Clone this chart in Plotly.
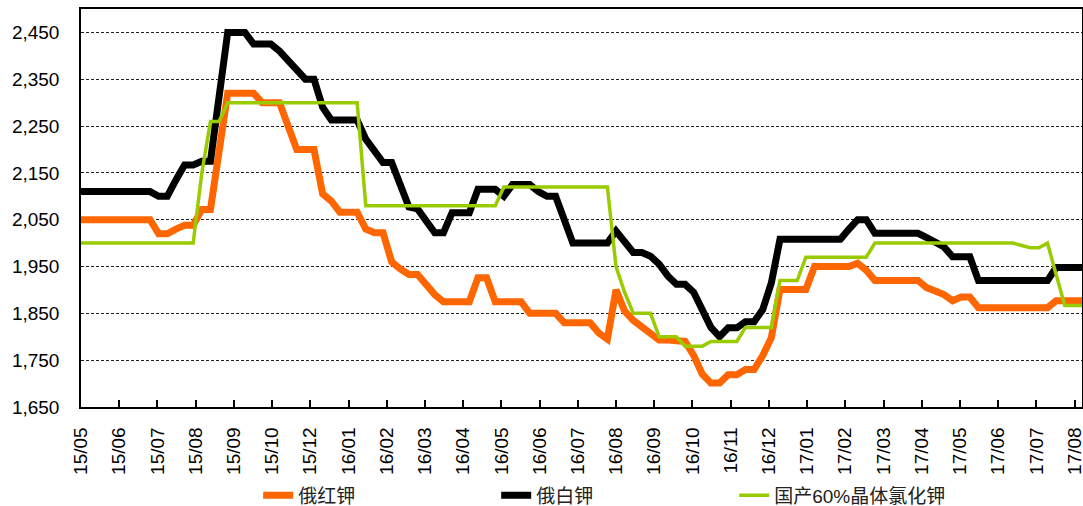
import pandas as pd
import plotly.graph_objects as go

# weekly observation dates
start_date = "2015-05-29"
n_points = 117
dates = pd.date_range(start_date, periods=n_points, freq="7D")

# x tick labels (date axis, one label every 31 days)
tick_labels = ["15/05", "15/06", "15/07", "15/08", "15/09", "15/10", "15/12",
               "16/01", "16/02", "16/03", "16/04", "16/05", "16/06", "16/07",
               "16/08", "16/09", "16/10", "16/11", "16/12", "17/01", "17/02",
               "17/03", "17/04", "17/05", "17/06", "17/07", "17/08"]
tick_step_days = 31

series_names = ["俄红钾", "俄白钾", "国产60%晶体氯化钾"]

red_potash = ([2050] * 9 + [2020] * 2 + [2030] + [2038] * 2 + [2072] * 2 + [2195]
              + [2320] * 4 + [2300] * 3 + [2250] + [2200] * 3 + [2105, 2090]
              + [2066] * 3 + [2030] + [2022] * 2 + [1960, 1945] + [1933] * 2
              + [1912, 1890] + [1875] * 4 + [1926] * 2 + [1875] * 4 + [1850] * 4
              + [1830] * 4 + [1808, 1795, 1900, 1855, 1835, 1820, 1808]
              + [1793] * 2 + [1790] * 2 + [1760, 1720] + [1701] * 2 + [1719] * 2
              + [1730] * 2 + [1760, 1798] + [1901] * 4 + [1950] * 5 + [1957, 1942]
              + [1920] * 6 + [1905, 1898, 1890, 1877] + [1885] * 2 + [1862] * 9
              + [1877] * 4)

white_potash = ([2110] * 9 + [2100] * 2 + [2135] + [2167] * 2 + [2175] * 2 + [2310]
                + [2450] * 3 + [2425] * 3 + [2410, 2390, 2368] + [2350] * 2 + [2290]
                + [2263] * 4 + [2222, 2197] + [2172] * 2 + [2125, 2077, 2073, 2048]
                + [2022] * 2 + [2065] * 3 + [2115] * 3 + [2100] + [2125] * 3 + [2110]
                + [2100] * 2 + [2050] + [2000] * 5 + [2026, 2000] + [1980] * 2
                + [1972, 1955, 1930] + [1912] * 2 + [1895, 1855, 1820, 1800]
                + [1819] * 2 + [1832] * 2 + [1858, 1915] + [2008] * 8 + [2030]
                + [2050] * 2 + [2021] * 6 + [2012, 2003, 1992] + [1971] * 3
                + [1920] * 9 + [1948] * 4)

domestic_kcl = ([2000] * 14 + [2150] + [2260] * 2 + [2300] * 16 + [2080] * 16
                + [2120] * 13 + [1950, 1895] + [1850] * 3 + [1800] * 3 + [1780] * 3
                + [1790] * 4 + [1820] * 4 + [1920] * 3 + [1970] * 8 + [2000] * 17
                + [1995] + [1990] * 2 + [2000, 1933] + [1867] * 3)

colors = ["#FF6600", "#000000", "#99CC00"]
widths = [7, 7, 3.5]

tick_dates = [pd.Timestamp(start_date) + pd.Timedelta(days=tick_step_days * k)
              for k in range(len(tick_labels))]

FONT = "Arial, 'Liberation Sans', 'Noto Sans CJK SC', sans-serif"

fig = go.Figure()
for name, vals, c, w in zip(series_names, [red_potash, white_potash, domestic_kcl], colors, widths):
    fig.add_trace(go.Scatter(x=dates, y=vals, mode="lines", name=name,
                             line=dict(color=c, width=w)))

fig.update_layout(
    width=1083, height=506,
    margin=dict(l=81, r=1, t=9, b=99, autoexpand=False),
    paper_bgcolor="white", plot_bgcolor="white",
    font=dict(family=FONT, size=19, color="#000"),
    showlegend=True,
    legend=dict(orientation="h", x=0.177, xanchor="left", y=-0.222, yanchor="middle",
                font=dict(size=19, color="#222"), entrywidth=193,
                entrywidthmode="pixels", bgcolor="rgba(0,0,0,0)"),
)
fig.update_xaxes(
    type="date", range=[dates[0], dates[-1]], automargin=False,
    tickmode="array", tickvals=tick_dates, ticktext=tick_labels,
    tickangle=-90, ticks="inside", ticklen=7, tickcolor="#000", tickwidth=1.5,
    showline=True, linecolor="#000", linewidth=1.5, mirror=True,
    showgrid=False, zeroline=False, ticklabelstandoff=11,
    ticklabeloverflow="allow", tickfont=dict(size=19),
)
fig.update_yaxes(
    range=[1650, 2500], tick0=1650, dtick=100, tickformat=",d", automargin=False,
    showline=True, linecolor="#000", linewidth=1.5, mirror=True,
    showgrid=True, gridcolor="#222", gridwidth=1, griddash="3px,2px",
    zeroline=False, ticks="", ticklabelstandoff=16, tickfont=dict(size=19),
)

fig.write_html("out.html", config={"displayModeBar": False},
               post_script="document.body.style.margin='0';document.body.style.overflow='hidden';")
